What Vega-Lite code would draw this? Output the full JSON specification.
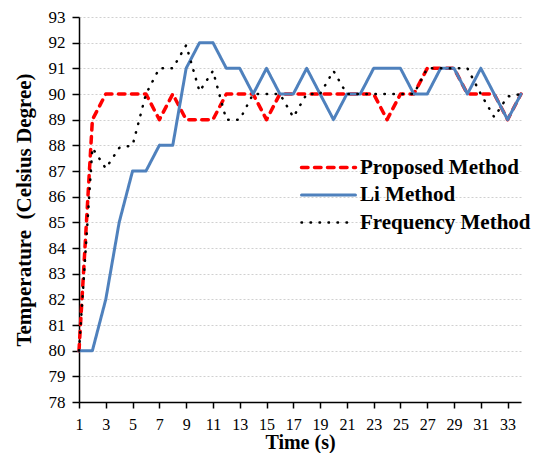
{
  "$schema": "https://vega.github.io/schema/vega-lite/v6.json",
  "width": 442,
  "height": 385,
  "autosize": "none",
  "padding": {"left": 79, "top": 17, "right": 17, "bottom": 51},
  "background": "white",
  "config": {"view": {"stroke": null}, "font": "Liberation Serif"},
  "data": {"values": [
    {"method": "Proposed Method", "time": 1, "temp": 80},
    {"method": "Proposed Method", "time": 2, "temp": 89},
    {"method": "Proposed Method", "time": 3, "temp": 90},
    {"method": "Proposed Method", "time": 4, "temp": 90},
    {"method": "Proposed Method", "time": 5, "temp": 90},
    {"method": "Proposed Method", "time": 6, "temp": 90},
    {"method": "Proposed Method", "time": 7, "temp": 89},
    {"method": "Proposed Method", "time": 8, "temp": 90},
    {"method": "Proposed Method", "time": 9, "temp": 89},
    {"method": "Proposed Method", "time": 10, "temp": 89},
    {"method": "Proposed Method", "time": 11, "temp": 89},
    {"method": "Proposed Method", "time": 12, "temp": 90},
    {"method": "Proposed Method", "time": 13, "temp": 90},
    {"method": "Proposed Method", "time": 14, "temp": 90},
    {"method": "Proposed Method", "time": 15, "temp": 89},
    {"method": "Proposed Method", "time": 16, "temp": 90},
    {"method": "Proposed Method", "time": 17, "temp": 90},
    {"method": "Proposed Method", "time": 18, "temp": 90},
    {"method": "Proposed Method", "time": 19, "temp": 90},
    {"method": "Proposed Method", "time": 20, "temp": 90},
    {"method": "Proposed Method", "time": 21, "temp": 90},
    {"method": "Proposed Method", "time": 22, "temp": 90},
    {"method": "Proposed Method", "time": 23, "temp": 90},
    {"method": "Proposed Method", "time": 24, "temp": 89},
    {"method": "Proposed Method", "time": 25, "temp": 90},
    {"method": "Proposed Method", "time": 26, "temp": 90},
    {"method": "Proposed Method", "time": 27, "temp": 91},
    {"method": "Proposed Method", "time": 28, "temp": 91},
    {"method": "Proposed Method", "time": 29, "temp": 91},
    {"method": "Proposed Method", "time": 30, "temp": 90},
    {"method": "Proposed Method", "time": 31, "temp": 90},
    {"method": "Proposed Method", "time": 32, "temp": 90},
    {"method": "Proposed Method", "time": 33, "temp": 89},
    {"method": "Proposed Method", "time": 34, "temp": 90},
    {"method": "Li Method", "time": 1, "temp": 80},
    {"method": "Li Method", "time": 2, "temp": 80},
    {"method": "Li Method", "time": 3, "temp": 82},
    {"method": "Li Method", "time": 4, "temp": 85},
    {"method": "Li Method", "time": 5, "temp": 87},
    {"method": "Li Method", "time": 6, "temp": 87},
    {"method": "Li Method", "time": 7, "temp": 88},
    {"method": "Li Method", "time": 8, "temp": 88},
    {"method": "Li Method", "time": 9, "temp": 91},
    {"method": "Li Method", "time": 10, "temp": 92},
    {"method": "Li Method", "time": 11, "temp": 92},
    {"method": "Li Method", "time": 12, "temp": 91},
    {"method": "Li Method", "time": 13, "temp": 91},
    {"method": "Li Method", "time": 14, "temp": 90},
    {"method": "Li Method", "time": 15, "temp": 91},
    {"method": "Li Method", "time": 16, "temp": 90},
    {"method": "Li Method", "time": 17, "temp": 90},
    {"method": "Li Method", "time": 18, "temp": 91},
    {"method": "Li Method", "time": 19, "temp": 90},
    {"method": "Li Method", "time": 20, "temp": 89},
    {"method": "Li Method", "time": 21, "temp": 90},
    {"method": "Li Method", "time": 22, "temp": 90},
    {"method": "Li Method", "time": 23, "temp": 91},
    {"method": "Li Method", "time": 24, "temp": 91},
    {"method": "Li Method", "time": 25, "temp": 91},
    {"method": "Li Method", "time": 26, "temp": 90},
    {"method": "Li Method", "time": 27, "temp": 90},
    {"method": "Li Method", "time": 28, "temp": 91},
    {"method": "Li Method", "time": 29, "temp": 91},
    {"method": "Li Method", "time": 30, "temp": 90},
    {"method": "Li Method", "time": 31, "temp": 91},
    {"method": "Li Method", "time": 32, "temp": 90},
    {"method": "Li Method", "time": 33, "temp": 89},
    {"method": "Li Method", "time": 34, "temp": 90},
    {"method": "Frequency Method", "time": 1, "temp": 80},
    {"method": "Frequency Method", "time": 2, "temp": 87.9},
    {"method": "Frequency Method", "time": 3, "temp": 87.1},
    {"method": "Frequency Method", "time": 4, "temp": 87.9},
    {"method": "Frequency Method", "time": 5, "temp": 88},
    {"method": "Frequency Method", "time": 6, "temp": 90},
    {"method": "Frequency Method", "time": 7, "temp": 91},
    {"method": "Frequency Method", "time": 8, "temp": 91},
    {"method": "Frequency Method", "time": 9, "temp": 91.9},
    {"method": "Frequency Method", "time": 10, "temp": 90.1},
    {"method": "Frequency Method", "time": 11, "temp": 90.9},
    {"method": "Frequency Method", "time": 12, "temp": 89},
    {"method": "Frequency Method", "time": 13, "temp": 89},
    {"method": "Frequency Method", "time": 14, "temp": 90},
    {"method": "Frequency Method", "time": 15, "temp": 90},
    {"method": "Frequency Method", "time": 16, "temp": 90},
    {"method": "Frequency Method", "time": 17, "temp": 89.1},
    {"method": "Frequency Method", "time": 18, "temp": 90},
    {"method": "Frequency Method", "time": 19, "temp": 90},
    {"method": "Frequency Method", "time": 20, "temp": 90.9},
    {"method": "Frequency Method", "time": 21, "temp": 90},
    {"method": "Frequency Method", "time": 22, "temp": 90},
    {"method": "Frequency Method", "time": 23, "temp": 90},
    {"method": "Frequency Method", "time": 24, "temp": 90},
    {"method": "Frequency Method", "time": 25, "temp": 90},
    {"method": "Frequency Method", "time": 26, "temp": 90},
    {"method": "Frequency Method", "time": 27, "temp": 91},
    {"method": "Frequency Method", "time": 28, "temp": 91},
    {"method": "Frequency Method", "time": 29, "temp": 91},
    {"method": "Frequency Method", "time": 30, "temp": 91},
    {"method": "Frequency Method", "time": 31, "temp": 90},
    {"method": "Frequency Method", "time": 32, "temp": 89.1},
    {"method": "Frequency Method", "time": 33, "temp": 89.9},
    {"method": "Frequency Method", "time": 34, "temp": 90}
  ]},
  "mark": {"type": "line", "strokeCap": "round", "strokeJoin": "round"},
  "encoding": {
    "x": {
      "field": "time", "type": "quantitative",
      "scale": {"domain": [1, 34], "nice": false, "zero": false},
      "axis": {
        "values": [1, 3, 5, 7, 9, 11, 13, 15, 17, 19, 21, 23, 25, 27, 29, 31, 33],
        "grid": false, "domainColor": "#000000", "domainWidth": 1.5,
        "tickColor": "#000000", "tickWidth": 1.5, "tickSize": 6,
        "labelFont": "Liberation Serif", "labelFontSize": 16, "labelColor": "#000000",
        "labelPadding": 8, "labelFlush": false,
        "title": "Time (s)", "titleFont": "Liberation Serif", "titleFontSize": 20,
        "titleFontWeight": "bold", "titleColor": "#000000",
        "titleY": 46.5, "titleBaseline": "alphabetic"
      }
    },
    "y": {
      "field": "temp", "type": "quantitative",
      "scale": {"domain": [78, 93], "nice": false, "zero": false},
      "axis": {
        "values": [78, 79, 80, 81, 82, 83, 84, 85, 86, 87, 88, 89, 90, 91, 92, 93],
        "grid": true, "gridColor": "#d0d0d0", "gridDash": [2, 2], "gridWidth": 1,
        "domainColor": "#000000", "domainWidth": 1.5,
        "tickColor": "#000000", "tickWidth": 1.5, "tickSize": 7,
        "labelFont": "Liberation Serif", "labelFontSize": 17, "labelColor": "#000000",
        "labelPadding": 7, "labelFlush": false,
        "title": "Temperature\u00a0 (Celsius Degree)", "titleFont": "Liberation Serif", "titleFontSize": 21,
        "titleFontWeight": "bold", "titleColor": "#000000",
        "titleX": -49, "titleBaseline": "alphabetic", "titleAngle": -90
      }
    },
    "color": {
      "field": "method", "type": "nominal",
      "scale": {"domain": ["Proposed Method", "Li Method", "Frequency Method"], "range": ["#FF0000", "#4F81BD", "#000000"]},
      "legend": {"orient": "none", "legendX": 239, "legendY": 140, "title": null, "padding": 0,
        "symbolType": "M -4 0 L 4 0", "symbolSize": 182, "labelFont": "Liberation Serif", "labelFontSize": 21,
        "labelFontWeight": "bold", "labelColor": "#000000", "labelOffset": 21, "rowPadding": 5.5, "labelLimit": 400,
        "encode": {"symbols": {"update": {"strokeCap": {"value": "round"}}}}}
    },
    "strokeDash": {
      "field": "method", "type": "nominal",
      "scale": {"domain": ["Proposed Method", "Li Method", "Frequency Method"], "range": [[6.5, 6.5], [1, 0], [0.5, 8.5]]},
      "legend": {"orient": "none", "legendX": 239, "legendY": 140, "title": null, "padding": 0,
        "symbolType": "M -4 0 L 4 0", "symbolSize": 182, "labelFont": "Liberation Serif", "labelFontSize": 21,
        "labelFontWeight": "bold", "labelColor": "#000000", "labelOffset": 21, "rowPadding": 5.5, "labelLimit": 400,
        "encode": {"symbols": {"update": {"strokeCap": {"value": "round"}}}}}
    },
    "strokeWidth": {
      "field": "method", "type": "ordinal",
      "scale": {"domain": ["Proposed Method", "Li Method", "Frequency Method"], "range": [3.5, 2.5, 4.5]},
      "legend": {"orient": "none", "legendX": 239, "legendY": 140, "title": null, "padding": 0,
        "symbolType": "M -4 0 L 4 0", "symbolSize": 182, "labelFont": "Liberation Serif", "labelFontSize": 21,
        "labelFontWeight": "bold", "labelColor": "#000000", "labelOffset": 21, "rowPadding": 5.5, "labelLimit": 400,
        "encode": {"symbols": {"update": {"strokeCap": {"value": "round"}}}}}
    }
  }
}
